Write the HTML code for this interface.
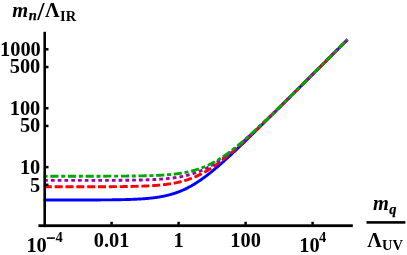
<!DOCTYPE html>
<html><head><meta charset="utf-8"><style>
html,body{margin:0;padding:0;background:#fff;}
body{width:407px;height:255px;overflow:hidden;position:relative;font-family:"Liberation Serif",serif;font-weight:bold;color:#000;}
svg{position:absolute;left:0;top:0;}
.t{position:absolute;white-space:nowrap;font-size:20.4px;line-height:20px;}
.yl{text-align:right;width:40.3px;left:0;}
.xl{text-align:center;width:80px;}
.i{font-style:italic;}
#lab{filter:grayscale(1);position:absolute;left:0;top:0;width:407px;height:255px;}
.s{font-size:14.5px;}
</style></head><body>
<svg width="407" height="255" viewBox="0 0 407 255">
<path d="M43.59 200.03 L44.10 200.03 L44.61 200.03 L45.12 200.03 L45.62 200.03 L46.13 200.03 L46.64 200.03 L47.15 200.03 L47.65 200.03 L48.16 200.03 L48.67 200.03 L49.17 200.03 L49.68 200.03 L50.19 200.03 L50.70 200.02 L51.20 200.02 L51.71 200.02 L52.22 200.02 L52.73 200.02 L53.23 200.02 L53.74 200.02 L54.25 200.02 L54.75 200.02 L55.26 200.02 L55.77 200.02 L56.28 200.02 L56.78 200.02 L57.29 200.02 L57.80 200.02 L58.31 200.02 L58.81 200.02 L59.32 200.02 L59.83 200.02 L60.33 200.02 L60.84 200.02 L61.35 200.02 L61.86 200.02 L62.36 200.02 L62.87 200.02 L63.38 200.02 L63.89 200.02 L64.39 200.02 L64.90 200.02 L65.41 200.02 L65.91 200.02 L66.42 200.02 L66.93 200.02 L67.44 200.02 L67.94 200.02 L68.45 200.01 L68.96 200.01 L69.46 200.01 L69.97 200.01 L70.48 200.01 L70.99 200.01 L71.49 200.01 L72.00 200.01 L72.51 200.01 L73.02 200.01 L73.52 200.01 L74.03 200.01 L74.54 200.01 L75.04 200.01 L75.55 200.01 L76.06 200.01 L76.57 200.00 L77.07 200.00 L77.58 200.00 L78.09 200.00 L78.60 200.00 L79.10 200.00 L79.61 200.00 L80.12 200.00 L80.62 200.00 L81.13 200.00 L81.64 200.00 L82.15 199.99 L82.65 199.99 L83.16 199.99 L83.67 199.99 L84.18 199.99 L84.68 199.99 L85.19 199.99 L85.70 199.99 L86.20 199.99 L86.71 199.98 L87.22 199.98 L87.73 199.98 L88.23 199.98 L88.74 199.98 L89.25 199.98 L89.76 199.97 L90.26 199.97 L90.77 199.97 L91.28 199.97 L91.78 199.97 L92.29 199.97 L92.80 199.96 L93.31 199.96 L93.81 199.96 L94.32 199.96 L94.83 199.96 L95.33 199.95 L95.84 199.95 L96.35 199.95 L96.86 199.95 L97.36 199.94 L97.87 199.94 L98.38 199.94 L98.89 199.94 L99.39 199.93 L99.90 199.93 L100.41 199.93 L100.91 199.92 L101.42 199.92 L101.93 199.92 L102.44 199.91 L102.94 199.91 L103.45 199.91 L103.96 199.90 L104.47 199.90 L104.97 199.89 L105.48 199.89 L105.99 199.89 L106.49 199.88 L107.00 199.88 L107.51 199.87 L108.02 199.87 L108.52 199.86 L109.03 199.86 L109.54 199.85 L110.05 199.85 L110.55 199.84 L111.06 199.84 L111.57 199.83 L112.07 199.82 L112.58 199.82 L113.09 199.81 L113.60 199.80 L114.10 199.80 L114.61 199.79 L115.12 199.78 L115.63 199.78 L116.13 199.77 L116.64 199.76 L117.15 199.75 L117.65 199.74 L118.16 199.74 L118.67 199.73 L119.18 199.72 L119.68 199.71 L120.19 199.70 L120.70 199.69 L121.20 199.68 L121.71 199.67 L122.22 199.66 L122.73 199.65 L123.23 199.63 L123.74 199.62 L124.25 199.61 L124.76 199.60 L125.26 199.58 L125.77 199.57 L126.28 199.56 L126.78 199.54 L127.29 199.53 L127.80 199.51 L128.31 199.50 L128.81 199.48 L129.32 199.47 L129.83 199.45 L130.34 199.43 L130.84 199.41 L131.35 199.40 L131.86 199.38 L132.36 199.36 L132.87 199.34 L133.38 199.32 L133.89 199.30 L134.39 199.27 L134.90 199.25 L135.41 199.23 L135.92 199.20 L136.42 199.18 L136.93 199.15 L137.44 199.13 L137.94 199.10 L138.45 199.07 L138.96 199.05 L139.47 199.02 L139.97 198.99 L140.48 198.96 L140.99 198.93 L141.49 198.89 L142.00 198.86 L142.51 198.83 L143.02 198.79 L143.52 198.75 L144.03 198.72 L144.54 198.68 L145.05 198.64 L145.55 198.60 L146.06 198.56 L146.57 198.51 L147.07 198.47 L147.58 198.43 L148.09 198.38 L148.60 198.33 L149.10 198.28 L149.61 198.23 L150.12 198.18 L150.63 198.13 L151.13 198.07 L151.64 198.02 L152.15 197.96 L152.65 197.90 L153.16 197.84 L153.67 197.78 L154.18 197.71 L154.68 197.65 L155.19 197.58 L155.70 197.51 L156.21 197.44 L156.71 197.37 L157.22 197.29 L157.73 197.22 L158.23 197.14 L158.74 197.06 L159.25 196.98 L159.76 196.89 L160.26 196.80 L160.77 196.71 L161.28 196.62 L161.79 196.53 L162.29 196.43 L162.80 196.34 L163.31 196.24 L163.81 196.13 L164.32 196.03 L164.83 195.92 L165.34 195.81 L165.84 195.70 L166.35 195.58 L166.86 195.46 L167.36 195.34 L167.87 195.22 L168.38 195.09 L168.89 194.96 L169.39 194.83 L169.90 194.69 L170.41 194.56 L170.92 194.41 L171.42 194.27 L171.93 194.12 L172.44 193.97 L172.94 193.82 L173.45 193.66 L173.96 193.50 L174.47 193.34 L174.97 193.17 L175.48 193.00 L175.99 192.83 L176.50 192.65 L177.00 192.47 L177.51 192.29 L178.02 192.10 L178.52 191.91 L179.03 191.71 L179.54 191.51 L180.05 191.31 L180.55 191.11 L181.06 190.90 L181.57 190.68 L182.08 190.47 L182.58 190.25 L183.09 190.02 L183.60 189.80 L184.10 189.56 L184.61 189.33 L185.12 189.09 L185.63 188.85 L186.13 188.60 L186.64 188.35 L187.15 188.10 L187.66 187.84 L188.16 187.58 L188.67 187.31 L189.18 187.04 L189.68 186.77 L190.19 186.49 L190.70 186.21 L191.21 185.93 L191.71 185.64 L192.22 185.35 L192.73 185.05 L193.23 184.75 L193.74 184.45 L194.25 184.14 L194.76 183.83 L195.26 183.52 L195.77 183.20 L196.28 182.88 L196.79 182.56 L197.29 182.23 L197.80 181.90 L198.31 181.57 L198.81 181.23 L199.32 180.89 L199.83 180.54 L200.34 180.20 L200.84 179.84 L201.35 179.49 L201.86 179.13 L202.37 178.77 L202.87 178.41 L203.38 178.04 L203.89 177.67 L204.39 177.30 L204.90 176.93 L205.41 176.55 L205.92 176.17 L206.42 175.78 L206.93 175.40 L207.44 175.01 L207.95 174.61 L208.45 174.22 L208.96 173.82 L209.47 173.42 L209.97 173.02 L210.48 172.62 L210.99 172.21 L211.50 171.80 L212.00 171.39 L212.51 170.97 L213.02 170.56 L213.53 170.14 L214.03 169.72 L214.54 169.29 L215.05 168.87 L215.55 168.44 L216.06 168.01 L216.57 167.58 L217.08 167.15 L217.58 166.72 L218.09 166.28 L218.60 165.84 L219.10 165.40 L219.61 164.96 L220.12 164.52 L220.63 164.07 L221.13 163.63 L221.64 163.18 L222.15 162.73 L222.66 162.28 L223.16 161.82 L223.67 161.37 L224.18 160.91 L224.68 160.46 L225.19 160.00 L225.70 159.54 L226.21 159.08 L226.71 158.62 L227.22 158.16 L227.73 157.69 L228.24 157.23 L228.74 156.76 L229.25 156.29 L229.76 155.82 L230.26 155.35 L230.77 154.88 L231.28 154.41 L231.79 153.94 L232.29 153.47 L232.80 152.99 L233.31 152.52 L233.82 152.04 L234.32 151.56 L234.83 151.09 L235.34 150.61 L235.84 150.13 L236.35 149.65 L236.86 149.17 L237.37 148.69 L237.87 148.20 L238.38 147.72 L238.89 147.24 L239.39 146.75 L239.90 146.27 L240.41 145.78 L240.92 145.30 L241.42 144.81 L241.93 144.32 L242.44 143.83 L242.95 143.35 L243.45 142.86 L243.96 142.37 L244.47 141.88 L244.97 141.39 L245.48 140.90 L245.99 140.41 L246.50 139.92 L247.00 139.42 L247.51 138.93 L248.02 138.44 L248.53 137.95 L249.03 137.45 L249.54 136.96 L250.05 136.46 L250.55 135.97 L251.06 135.47 L251.57 134.98 L252.08 134.48 L252.58 133.99 L253.09 133.49 L253.60 132.99 L254.11 132.50 L254.61 132.00 L255.12 131.50 L255.63 131.01 L256.13 130.51 L256.64 130.01 L257.15 129.51 L257.66 129.01 L258.16 128.51 L258.67 128.02 L259.18 127.52 L259.69 127.02 L260.19 126.52 L260.70 126.02 L261.21 125.52 L261.71 125.02 L262.22 124.52 L262.73 124.02 L263.24 123.52 L263.74 123.01 L264.25 122.51 L264.76 122.01 L265.26 121.51 L265.77 121.01 L266.28 120.51 L266.79 120.01 L267.29 119.50 L267.80 119.00 L268.31 118.50 L268.82 118.00 L269.32 117.50 L269.83 116.99 L270.34 116.49 L270.84 115.99 L271.35 115.49 L271.86 114.98 L272.37 114.48 L272.87 113.98 L273.38 113.47 L273.89 112.97 L274.40 112.47 L274.90 111.96 L275.41 111.46 L275.92 110.96 L276.42 110.45 L276.93 109.95 L277.44 109.44 L277.95 108.94 L278.45 108.44 L278.96 107.93 L279.47 107.43 L279.98 106.92 L280.48 106.42 L280.99 105.92 L281.50 105.41 L282.00 104.91 L282.51 104.40 L283.02 103.90 L283.53 103.39 L284.03 102.89 L284.54 102.38 L285.05 101.88 L285.56 101.37 L286.06 100.87 L286.57 100.36 L287.08 99.86 L287.58 99.35 L288.09 98.85 L288.60 98.34 L289.11 97.84 L289.61 97.33 L290.12 96.83 L290.63 96.32 L291.13 95.82 L291.64 95.31 L292.15 94.81 L292.66 94.30 L293.16 93.80 L293.67 93.29 L294.18 92.79 L294.69 92.28 L295.19 91.78 L295.70 91.27 L296.21 90.77 L296.71 90.26 L297.22 89.75 L297.73 89.25 L298.24 88.74 L298.74 88.24 L299.25 87.73 L299.76 87.23 L300.27 86.72 L300.77 86.21 L301.28 85.71 L301.79 85.20 L302.29 84.70 L302.80 84.19 L303.31 83.69 L303.82 83.18 L304.32 82.67 L304.83 82.17 L305.34 81.66 L305.85 81.16 L306.35 80.65 L306.86 80.15 L307.37 79.64 L307.87 79.13 L308.38 78.63 L308.89 78.12 L309.40 77.62 L309.90 77.11 L310.41 76.60 L310.92 76.10 L311.42 75.59 L311.93 75.09 L312.44 74.58 L312.95 74.07 L313.45 73.57 L313.96 73.06 L314.47 72.56 L314.98 72.05 L315.48 71.54 L315.99 71.04 L316.50 70.53 L317.00 70.03 L317.51 69.52 L318.02 69.01 L318.53 68.51 L319.03 68.00 L319.54 67.49 L320.05 66.99 L320.56 66.48 L321.06 65.98 L321.57 65.47 L322.08 64.96 L322.58 64.46 L323.09 63.95 L323.60 63.45 L324.11 62.94 L324.61 62.43 L325.12 61.93 L325.63 61.42 L326.14 60.92 L326.64 60.41 L327.15 59.90 L327.66 59.40 L328.16 58.89 L328.67 58.38 L329.18 57.88 L329.69 57.37 L330.19 56.87 L330.70 56.36 L331.21 55.85 L331.72 55.35 L332.22 54.84 L332.73 54.33 L333.24 53.83 L333.74 53.32 L334.25 52.82 L334.76 52.31 L335.27 51.80 L335.77 51.30 L336.28 50.79 L336.79 50.28 L337.29 49.78 L337.80 49.27 L338.31 48.77 L338.82 48.26 L339.32 47.75 L339.83 47.25 L340.34 46.74 L340.85 46.23 L341.35 45.73 L341.86 45.22 L342.37 44.72 L342.87 44.21 L343.38 43.70 L343.89 43.20 L344.40 42.69 L344.90 42.18 L345.41 41.68 L345.92 41.17 L346.43 40.67 L346.93 40.16 L347.44 39.65" fill="none" stroke="#0000ff" stroke-width="2.9"/>
<path d="M43.59 186.79 L44.10 186.79 L44.61 186.79 L45.12 186.79 L45.62 186.79 L46.13 186.79 L46.64 186.79 L47.15 186.79 L47.65 186.79 L48.16 186.79 L48.67 186.79 L49.17 186.79 L49.68 186.79 L50.19 186.79 L50.70 186.79 L51.20 186.79 L51.71 186.79 L52.22 186.79 L52.73 186.79 L53.23 186.79 L53.74 186.79 L54.25 186.79 L54.75 186.79 L55.26 186.79 L55.77 186.79 L56.28 186.79 L56.78 186.79 L57.29 186.79 L57.80 186.79 L58.31 186.79 L58.81 186.79 L59.32 186.79 L59.83 186.79 L60.33 186.79 L60.84 186.79 L61.35 186.79 L61.86 186.79 L62.36 186.79 L62.87 186.79 L63.38 186.79 L63.89 186.79 L64.39 186.79 L64.90 186.79 L65.41 186.79 L65.91 186.79 L66.42 186.79 L66.93 186.79 L67.44 186.79 L67.94 186.79 L68.45 186.79 L68.96 186.79 L69.46 186.79 L69.97 186.79 L70.48 186.79 L70.99 186.79 L71.49 186.79 L72.00 186.78 L72.51 186.78 L73.02 186.78 L73.52 186.78 L74.03 186.78 L74.54 186.78 L75.04 186.78 L75.55 186.78 L76.06 186.78 L76.57 186.78 L77.07 186.78 L77.58 186.78 L78.09 186.78 L78.60 186.78 L79.10 186.78 L79.61 186.78 L80.12 186.78 L80.62 186.78 L81.13 186.78 L81.64 186.78 L82.15 186.77 L82.65 186.77 L83.16 186.77 L83.67 186.77 L84.18 186.77 L84.68 186.77 L85.19 186.77 L85.70 186.77 L86.20 186.77 L86.71 186.77 L87.22 186.77 L87.73 186.77 L88.23 186.77 L88.74 186.76 L89.25 186.76 L89.76 186.76 L90.26 186.76 L90.77 186.76 L91.28 186.76 L91.78 186.76 L92.29 186.76 L92.80 186.76 L93.31 186.76 L93.81 186.75 L94.32 186.75 L94.83 186.75 L95.33 186.75 L95.84 186.75 L96.35 186.75 L96.86 186.75 L97.36 186.74 L97.87 186.74 L98.38 186.74 L98.89 186.74 L99.39 186.74 L99.90 186.74 L100.41 186.73 L100.91 186.73 L101.42 186.73 L101.93 186.73 L102.44 186.73 L102.94 186.72 L103.45 186.72 L103.96 186.72 L104.47 186.72 L104.97 186.72 L105.48 186.71 L105.99 186.71 L106.49 186.71 L107.00 186.71 L107.51 186.70 L108.02 186.70 L108.52 186.70 L109.03 186.70 L109.54 186.69 L110.05 186.69 L110.55 186.69 L111.06 186.68 L111.57 186.68 L112.07 186.68 L112.58 186.67 L113.09 186.67 L113.60 186.67 L114.10 186.66 L114.61 186.66 L115.12 186.65 L115.63 186.65 L116.13 186.64 L116.64 186.64 L117.15 186.64 L117.65 186.63 L118.16 186.63 L118.67 186.62 L119.18 186.62 L119.68 186.61 L120.19 186.61 L120.70 186.60 L121.20 186.59 L121.71 186.59 L122.22 186.58 L122.73 186.58 L123.23 186.57 L123.74 186.56 L124.25 186.56 L124.76 186.55 L125.26 186.54 L125.77 186.54 L126.28 186.53 L126.78 186.52 L127.29 186.51 L127.80 186.50 L128.31 186.49 L128.81 186.49 L129.32 186.48 L129.83 186.47 L130.34 186.46 L130.84 186.45 L131.35 186.44 L131.86 186.43 L132.36 186.42 L132.87 186.41 L133.38 186.40 L133.89 186.38 L134.39 186.37 L134.90 186.36 L135.41 186.35 L135.92 186.33 L136.42 186.32 L136.93 186.31 L137.44 186.29 L137.94 186.28 L138.45 186.26 L138.96 186.25 L139.47 186.23 L139.97 186.22 L140.48 186.20 L140.99 186.18 L141.49 186.17 L142.00 186.15 L142.51 186.13 L143.02 186.11 L143.52 186.09 L144.03 186.07 L144.54 186.05 L145.05 186.03 L145.55 186.01 L146.06 185.98 L146.57 185.96 L147.07 185.94 L147.58 185.91 L148.09 185.89 L148.60 185.86 L149.10 185.83 L149.61 185.81 L150.12 185.78 L150.63 185.75 L151.13 185.72 L151.64 185.69 L152.15 185.66 L152.65 185.63 L153.16 185.59 L153.67 185.56 L154.18 185.53 L154.68 185.49 L155.19 185.45 L155.70 185.42 L156.21 185.38 L156.71 185.34 L157.22 185.30 L157.73 185.26 L158.23 185.21 L158.74 185.17 L159.25 185.12 L159.76 185.08 L160.26 185.03 L160.77 184.98 L161.28 184.93 L161.79 184.88 L162.29 184.83 L162.80 184.77 L163.31 184.72 L163.81 184.66 L164.32 184.60 L164.83 184.54 L165.34 184.48 L165.84 184.41 L166.35 184.35 L166.86 184.28 L167.36 184.22 L167.87 184.15 L168.38 184.07 L168.89 184.00 L169.39 183.93 L169.90 183.85 L170.41 183.77 L170.92 183.69 L171.42 183.61 L171.93 183.52 L172.44 183.43 L172.94 183.35 L173.45 183.25 L173.96 183.16 L174.47 183.07 L174.97 182.97 L175.48 182.87 L175.99 182.77 L176.50 182.66 L177.00 182.55 L177.51 182.45 L178.02 182.33 L178.52 182.22 L179.03 182.10 L179.54 181.98 L180.05 181.86 L180.55 181.74 L181.06 181.61 L181.57 181.48 L182.08 181.34 L182.58 181.21 L183.09 181.07 L183.60 180.93 L184.10 180.78 L184.61 180.63 L185.12 180.48 L185.63 180.33 L186.13 180.17 L186.64 180.01 L187.15 179.85 L187.66 179.68 L188.16 179.51 L188.67 179.34 L189.18 179.16 L189.68 178.98 L190.19 178.80 L190.70 178.62 L191.21 178.43 L191.71 178.23 L192.22 178.04 L192.73 177.84 L193.23 177.63 L193.74 177.43 L194.25 177.22 L194.76 177.00 L195.26 176.78 L195.77 176.56 L196.28 176.34 L196.79 176.11 L197.29 175.88 L197.80 175.64 L198.31 175.40 L198.81 175.16 L199.32 174.92 L199.83 174.67 L200.34 174.41 L200.84 174.15 L201.35 173.89 L201.86 173.63 L202.37 173.36 L202.87 173.09 L203.38 172.81 L203.89 172.54 L204.39 172.25 L204.90 171.97 L205.41 171.68 L205.92 171.38 L206.42 171.09 L206.93 170.79 L207.44 170.48 L207.95 170.18 L208.45 169.87 L208.96 169.55 L209.47 169.23 L209.97 168.91 L210.48 168.59 L210.99 168.26 L211.50 167.93 L212.00 167.60 L212.51 167.26 L213.02 166.92 L213.53 166.57 L214.03 166.23 L214.54 165.88 L215.05 165.52 L215.55 165.17 L216.06 164.81 L216.57 164.45 L217.08 164.08 L217.58 163.71 L218.09 163.34 L218.60 162.97 L219.10 162.59 L219.61 162.21 L220.12 161.83 L220.63 161.45 L221.13 161.06 L221.64 160.67 L222.15 160.28 L222.66 159.88 L223.16 159.48 L223.67 159.08 L224.18 158.68 L224.68 158.28 L225.19 157.87 L225.70 157.46 L226.21 157.05 L226.71 156.64 L227.22 156.22 L227.73 155.80 L228.24 155.38 L228.74 154.96 L229.25 154.54 L229.76 154.11 L230.26 153.68 L230.77 153.25 L231.28 152.82 L231.79 152.39 L232.29 151.95 L232.80 151.52 L233.31 151.08 L233.82 150.64 L234.32 150.19 L234.83 149.75 L235.34 149.31 L235.84 148.86 L236.35 148.41 L236.86 147.96 L237.37 147.51 L237.87 147.06 L238.38 146.60 L238.89 146.15 L239.39 145.69 L239.90 145.23 L240.41 144.78 L240.92 144.32 L241.42 143.85 L241.93 143.39 L242.44 142.93 L242.95 142.46 L243.45 142.00 L243.96 141.53 L244.47 141.06 L244.97 140.59 L245.48 140.12 L245.99 139.65 L246.50 139.18 L247.00 138.71 L247.51 138.24 L248.02 137.76 L248.53 137.29 L249.03 136.81 L249.54 136.33 L250.05 135.85 L250.55 135.38 L251.06 134.90 L251.57 134.42 L252.08 133.94 L252.58 133.46 L253.09 132.97 L253.60 132.49 L254.11 132.01 L254.61 131.52 L255.12 131.04 L255.63 130.55 L256.13 130.07 L256.64 129.58 L257.15 129.09 L257.66 128.61 L258.16 128.12 L258.67 127.63 L259.18 127.14 L259.69 126.65 L260.19 126.16 L260.70 125.67 L261.21 125.18 L261.71 124.69 L262.22 124.20 L262.73 123.71 L263.24 123.22 L263.74 122.72 L264.25 122.23 L264.76 121.74 L265.26 121.24 L265.77 120.75 L266.28 120.25 L266.79 119.76 L267.29 119.26 L267.80 118.77 L268.31 118.27 L268.82 117.78 L269.32 117.28 L269.83 116.78 L270.34 116.29 L270.84 115.79 L271.35 115.29 L271.86 114.79 L272.37 114.30 L272.87 113.80 L273.38 113.30 L273.89 112.80 L274.40 112.30 L274.90 111.80 L275.41 111.30 L275.92 110.81 L276.42 110.31 L276.93 109.81 L277.44 109.31 L277.95 108.81 L278.45 108.31 L278.96 107.80 L279.47 107.30 L279.98 106.80 L280.48 106.30 L280.99 105.80 L281.50 105.30 L282.00 104.80 L282.51 104.30 L283.02 103.80 L283.53 103.29 L284.03 102.79 L284.54 102.29 L285.05 101.79 L285.56 101.29 L286.06 100.78 L286.57 100.28 L287.08 99.78 L287.58 99.28 L288.09 98.77 L288.60 98.27 L289.11 97.77 L289.61 97.26 L290.12 96.76 L290.63 96.26 L291.13 95.75 L291.64 95.25 L292.15 94.75 L292.66 94.24 L293.16 93.74 L293.67 93.24 L294.18 92.73 L294.69 92.23 L295.19 91.72 L295.70 91.22 L296.21 90.72 L296.71 90.21 L297.22 89.71 L297.73 89.20 L298.24 88.70 L298.74 88.19 L299.25 87.69 L299.76 87.19 L300.27 86.68 L300.77 86.18 L301.28 85.67 L301.79 85.17 L302.29 84.66 L302.80 84.16 L303.31 83.65 L303.82 83.15 L304.32 82.64 L304.83 82.14 L305.34 81.63 L305.85 81.13 L306.35 80.62 L306.86 80.12 L307.37 79.61 L307.87 79.11 L308.38 78.60 L308.89 78.10 L309.40 77.59 L309.90 77.09 L310.41 76.58 L310.92 76.08 L311.42 75.57 L311.93 75.07 L312.44 74.56 L312.95 74.05 L313.45 73.55 L313.96 73.04 L314.47 72.54 L314.98 72.03 L315.48 71.53 L315.99 71.02 L316.50 70.52 L317.00 70.01 L317.51 69.50 L318.02 69.00 L318.53 68.49 L319.03 67.99 L319.54 67.48 L320.05 66.98 L320.56 66.47 L321.06 65.96 L321.57 65.46 L322.08 64.95 L322.58 64.45 L323.09 63.94 L323.60 63.44 L324.11 62.93 L324.61 62.42 L325.12 61.92 L325.63 61.41 L326.14 60.91 L326.64 60.40 L327.15 59.89 L327.66 59.39 L328.16 58.88 L328.67 58.38 L329.18 57.87 L329.69 57.36 L330.19 56.86 L330.70 56.35 L331.21 55.85 L331.72 55.34 L332.22 54.83 L332.73 54.33 L333.24 53.82 L333.74 53.32 L334.25 52.81 L334.76 52.30 L335.27 51.80 L335.77 51.29 L336.28 50.79 L336.79 50.28 L337.29 49.77 L337.80 49.27 L338.31 48.76 L338.82 48.26 L339.32 47.75 L339.83 47.24 L340.34 46.74 L340.85 46.23 L341.35 45.72 L341.86 45.22 L342.37 44.71 L342.87 44.21 L343.38 43.70 L343.89 43.19 L344.40 42.69 L344.90 42.18 L345.41 41.68 L345.92 41.17 L346.43 40.66 L346.93 40.16 L347.44 39.65" fill="none" stroke="#ff0000" stroke-width="2.9" stroke-dasharray="8.04 2.8" stroke-dashoffset="10.63"/>
<path d="M43.59 180.42 L44.10 180.42 L44.61 180.42 L45.12 180.42 L45.62 180.42 L46.13 180.42 L46.64 180.42 L47.15 180.42 L47.65 180.42 L48.16 180.42 L48.67 180.42 L49.17 180.42 L49.68 180.42 L50.19 180.42 L50.70 180.42 L51.20 180.42 L51.71 180.42 L52.22 180.42 L52.73 180.42 L53.23 180.42 L53.74 180.42 L54.25 180.42 L54.75 180.42 L55.26 180.42 L55.77 180.42 L56.28 180.42 L56.78 180.42 L57.29 180.42 L57.80 180.42 L58.31 180.42 L58.81 180.42 L59.32 180.42 L59.83 180.42 L60.33 180.42 L60.84 180.42 L61.35 180.42 L61.86 180.42 L62.36 180.42 L62.87 180.42 L63.38 180.42 L63.89 180.42 L64.39 180.42 L64.90 180.42 L65.41 180.42 L65.91 180.42 L66.42 180.42 L66.93 180.42 L67.44 180.42 L67.94 180.42 L68.45 180.42 L68.96 180.42 L69.46 180.42 L69.97 180.42 L70.48 180.42 L70.99 180.42 L71.49 180.42 L72.00 180.42 L72.51 180.41 L73.02 180.41 L73.52 180.41 L74.03 180.41 L74.54 180.41 L75.04 180.41 L75.55 180.41 L76.06 180.41 L76.57 180.41 L77.07 180.41 L77.58 180.41 L78.09 180.41 L78.60 180.41 L79.10 180.41 L79.61 180.41 L80.12 180.41 L80.62 180.41 L81.13 180.41 L81.64 180.41 L82.15 180.41 L82.65 180.41 L83.16 180.41 L83.67 180.41 L84.18 180.41 L84.68 180.41 L85.19 180.41 L85.70 180.40 L86.20 180.40 L86.71 180.40 L87.22 180.40 L87.73 180.40 L88.23 180.40 L88.74 180.40 L89.25 180.40 L89.76 180.40 L90.26 180.40 L90.77 180.40 L91.28 180.40 L91.78 180.40 L92.29 180.40 L92.80 180.40 L93.31 180.39 L93.81 180.39 L94.32 180.39 L94.83 180.39 L95.33 180.39 L95.84 180.39 L96.35 180.39 L96.86 180.39 L97.36 180.39 L97.87 180.39 L98.38 180.38 L98.89 180.38 L99.39 180.38 L99.90 180.38 L100.41 180.38 L100.91 180.38 L101.42 180.38 L101.93 180.38 L102.44 180.37 L102.94 180.37 L103.45 180.37 L103.96 180.37 L104.47 180.37 L104.97 180.37 L105.48 180.37 L105.99 180.36 L106.49 180.36 L107.00 180.36 L107.51 180.36 L108.02 180.36 L108.52 180.35 L109.03 180.35 L109.54 180.35 L110.05 180.35 L110.55 180.35 L111.06 180.34 L111.57 180.34 L112.07 180.34 L112.58 180.34 L113.09 180.33 L113.60 180.33 L114.10 180.33 L114.61 180.33 L115.12 180.32 L115.63 180.32 L116.13 180.32 L116.64 180.31 L117.15 180.31 L117.65 180.31 L118.16 180.30 L118.67 180.30 L119.18 180.30 L119.68 180.29 L120.19 180.29 L120.70 180.29 L121.20 180.28 L121.71 180.28 L122.22 180.27 L122.73 180.27 L123.23 180.27 L123.74 180.26 L124.25 180.26 L124.76 180.25 L125.26 180.25 L125.77 180.24 L126.28 180.24 L126.78 180.23 L127.29 180.22 L127.80 180.22 L128.31 180.21 L128.81 180.21 L129.32 180.20 L129.83 180.19 L130.34 180.19 L130.84 180.18 L131.35 180.17 L131.86 180.17 L132.36 180.16 L132.87 180.15 L133.38 180.14 L133.89 180.13 L134.39 180.13 L134.90 180.12 L135.41 180.11 L135.92 180.10 L136.42 180.09 L136.93 180.08 L137.44 180.07 L137.94 180.06 L138.45 180.05 L138.96 180.04 L139.47 180.03 L139.97 180.02 L140.48 180.01 L140.99 179.99 L141.49 179.98 L142.00 179.97 L142.51 179.96 L143.02 179.94 L143.52 179.93 L144.03 179.91 L144.54 179.90 L145.05 179.88 L145.55 179.87 L146.06 179.85 L146.57 179.84 L147.07 179.82 L147.58 179.80 L148.09 179.78 L148.60 179.77 L149.10 179.75 L149.61 179.73 L150.12 179.71 L150.63 179.69 L151.13 179.67 L151.64 179.65 L152.15 179.62 L152.65 179.60 L153.16 179.58 L153.67 179.55 L154.18 179.53 L154.68 179.50 L155.19 179.48 L155.70 179.45 L156.21 179.42 L156.71 179.39 L157.22 179.37 L157.73 179.34 L158.23 179.30 L158.74 179.27 L159.25 179.24 L159.76 179.21 L160.26 179.17 L160.77 179.14 L161.28 179.10 L161.79 179.06 L162.29 179.03 L162.80 178.99 L163.31 178.95 L163.81 178.91 L164.32 178.86 L164.83 178.82 L165.34 178.78 L165.84 178.73 L166.35 178.68 L166.86 178.64 L167.36 178.59 L167.87 178.54 L168.38 178.48 L168.89 178.43 L169.39 178.37 L169.90 178.32 L170.41 178.26 L170.92 178.20 L171.42 178.14 L171.93 178.08 L172.44 178.02 L172.94 177.95 L173.45 177.88 L173.96 177.81 L174.47 177.74 L174.97 177.67 L175.48 177.60 L175.99 177.52 L176.50 177.44 L177.00 177.36 L177.51 177.28 L178.02 177.20 L178.52 177.11 L179.03 177.03 L179.54 176.94 L180.05 176.84 L180.55 176.75 L181.06 176.65 L181.57 176.55 L182.08 176.45 L182.58 176.35 L183.09 176.24 L183.60 176.14 L184.10 176.03 L184.61 175.91 L185.12 175.80 L185.63 175.68 L186.13 175.56 L186.64 175.44 L187.15 175.31 L187.66 175.18 L188.16 175.05 L188.67 174.91 L189.18 174.78 L189.68 174.64 L190.19 174.49 L190.70 174.35 L191.21 174.20 L191.71 174.05 L192.22 173.89 L192.73 173.73 L193.23 173.57 L193.74 173.41 L194.25 173.24 L194.76 173.07 L195.26 172.90 L195.77 172.72 L196.28 172.54 L196.79 172.35 L197.29 172.16 L197.80 171.97 L198.31 171.78 L198.81 171.58 L199.32 171.38 L199.83 171.18 L200.34 170.97 L200.84 170.76 L201.35 170.54 L201.86 170.32 L202.37 170.10 L202.87 169.87 L203.38 169.64 L203.89 169.41 L204.39 169.17 L204.90 168.93 L205.41 168.69 L205.92 168.44 L206.42 168.19 L206.93 167.93 L207.44 167.67 L207.95 167.41 L208.45 167.15 L208.96 166.88 L209.47 166.60 L209.97 166.33 L210.48 166.05 L210.99 165.76 L211.50 165.47 L212.00 165.18 L212.51 164.89 L213.02 164.59 L213.53 164.29 L214.03 163.98 L214.54 163.67 L215.05 163.36 L215.55 163.05 L216.06 162.73 L216.57 162.41 L217.08 162.08 L217.58 161.75 L218.09 161.42 L218.60 161.08 L219.10 160.74 L219.61 160.40 L220.12 160.06 L220.63 159.71 L221.13 159.36 L221.64 159.00 L222.15 158.65 L222.66 158.29 L223.16 157.92 L223.67 157.56 L224.18 157.19 L224.68 156.81 L225.19 156.44 L225.70 156.06 L226.21 155.68 L226.71 155.30 L227.22 154.91 L227.73 154.52 L228.24 154.13 L228.74 153.74 L229.25 153.34 L229.76 152.95 L230.26 152.54 L230.77 152.14 L231.28 151.74 L231.79 151.33 L232.29 150.92 L232.80 150.51 L233.31 150.09 L233.82 149.67 L234.32 149.26 L234.83 148.83 L235.34 148.41 L235.84 147.99 L236.35 147.56 L236.86 147.13 L237.37 146.70 L237.87 146.27 L238.38 145.83 L238.89 145.40 L239.39 144.96 L239.90 144.52 L240.41 144.08 L240.92 143.64 L241.42 143.19 L241.93 142.75 L242.44 142.30 L242.95 141.85 L243.45 141.40 L243.96 140.95 L244.47 140.50 L244.97 140.04 L245.48 139.59 L245.99 139.13 L246.50 138.67 L247.00 138.21 L247.51 137.75 L248.02 137.29 L248.53 136.83 L249.03 136.36 L249.54 135.90 L250.05 135.43 L250.55 134.96 L251.06 134.50 L251.57 134.03 L252.08 133.56 L252.58 133.09 L253.09 132.61 L253.60 132.14 L254.11 131.67 L254.61 131.19 L255.12 130.72 L255.63 130.24 L256.13 129.76 L256.64 129.28 L257.15 128.81 L257.66 128.33 L258.16 127.85 L258.67 127.36 L259.18 126.88 L259.69 126.40 L260.19 125.92 L260.70 125.43 L261.21 124.95 L261.71 124.47 L262.22 123.98 L262.73 123.49 L263.24 123.01 L263.74 122.52 L264.25 122.03 L264.76 121.54 L265.26 121.06 L265.77 120.57 L266.28 120.08 L266.79 119.59 L267.29 119.10 L267.80 118.61 L268.31 118.12 L268.82 117.62 L269.32 117.13 L269.83 116.64 L270.34 116.15 L270.84 115.65 L271.35 115.16 L271.86 114.67 L272.37 114.17 L272.87 113.68 L273.38 113.18 L273.89 112.69 L274.40 112.19 L274.90 111.69 L275.41 111.20 L275.92 110.70 L276.42 110.21 L276.93 109.71 L277.44 109.21 L277.95 108.71 L278.45 108.22 L278.96 107.72 L279.47 107.22 L279.98 106.72 L280.48 106.22 L280.99 105.72 L281.50 105.22 L282.00 104.73 L282.51 104.23 L283.02 103.73 L283.53 103.23 L284.03 102.73 L284.54 102.23 L285.05 101.73 L285.56 101.23 L286.06 100.72 L286.57 100.22 L287.08 99.72 L287.58 99.22 L288.09 98.72 L288.60 98.22 L289.11 97.72 L289.61 97.22 L290.12 96.71 L290.63 96.21 L291.13 95.71 L291.64 95.21 L292.15 94.70 L292.66 94.20 L293.16 93.70 L293.67 93.20 L294.18 92.69 L294.69 92.19 L295.19 91.69 L295.70 91.19 L296.21 90.68 L296.71 90.18 L297.22 89.68 L297.73 89.17 L298.24 88.67 L298.74 88.17 L299.25 87.66 L299.76 87.16 L300.27 86.65 L300.77 86.15 L301.28 85.65 L301.79 85.14 L302.29 84.64 L302.80 84.13 L303.31 83.63 L303.82 83.13 L304.32 82.62 L304.83 82.12 L305.34 81.61 L305.85 81.11 L306.35 80.60 L306.86 80.10 L307.37 79.59 L307.87 79.09 L308.38 78.59 L308.89 78.08 L309.40 77.58 L309.90 77.07 L310.41 76.57 L310.92 76.06 L311.42 75.56 L311.93 75.05 L312.44 74.55 L312.95 74.04 L313.45 73.54 L313.96 73.03 L314.47 72.53 L314.98 72.02 L315.48 71.52 L315.99 71.01 L316.50 70.50 L317.00 70.00 L317.51 69.49 L318.02 68.99 L318.53 68.48 L319.03 67.98 L319.54 67.47 L320.05 66.97 L320.56 66.46 L321.06 65.96 L321.57 65.45 L322.08 64.94 L322.58 64.44 L323.09 63.93 L323.60 63.43 L324.11 62.92 L324.61 62.42 L325.12 61.91 L325.63 61.41 L326.14 60.90 L326.64 60.39 L327.15 59.89 L327.66 59.38 L328.16 58.88 L328.67 58.37 L329.18 57.86 L329.69 57.36 L330.19 56.85 L330.70 56.35 L331.21 55.84 L331.72 55.34 L332.22 54.83 L332.73 54.32 L333.24 53.82 L333.74 53.31 L334.25 52.81 L334.76 52.30 L335.27 51.79 L335.77 51.29 L336.28 50.78 L336.79 50.28 L337.29 49.77 L337.80 49.26 L338.31 48.76 L338.82 48.25 L339.32 47.75 L339.83 47.24 L340.34 46.73 L340.85 46.23 L341.35 45.72 L341.86 45.22 L342.37 44.71 L342.87 44.20 L343.38 43.70 L343.89 43.19 L344.40 42.69 L344.90 42.18 L345.41 41.67 L345.92 41.17 L346.43 40.66 L346.93 40.15 L347.44 39.65" fill="none" stroke="#a000b2" stroke-width="2.9" stroke-dasharray="3.72 3.05" stroke-dashoffset="6.21"/>
<path d="M43.59 176.22 L44.10 176.22 L44.61 176.22 L45.12 176.22 L45.62 176.22 L46.13 176.22 L46.64 176.22 L47.15 176.22 L47.65 176.22 L48.16 176.22 L48.67 176.22 L49.17 176.22 L49.68 176.22 L50.19 176.22 L50.70 176.22 L51.20 176.22 L51.71 176.22 L52.22 176.22 L52.73 176.22 L53.23 176.22 L53.74 176.22 L54.25 176.22 L54.75 176.22 L55.26 176.22 L55.77 176.22 L56.28 176.22 L56.78 176.22 L57.29 176.22 L57.80 176.22 L58.31 176.22 L58.81 176.22 L59.32 176.22 L59.83 176.22 L60.33 176.22 L60.84 176.22 L61.35 176.22 L61.86 176.22 L62.36 176.22 L62.87 176.22 L63.38 176.22 L63.89 176.22 L64.39 176.22 L64.90 176.22 L65.41 176.22 L65.91 176.22 L66.42 176.22 L66.93 176.22 L67.44 176.22 L67.94 176.22 L68.45 176.22 L68.96 176.22 L69.46 176.22 L69.97 176.22 L70.48 176.22 L70.99 176.22 L71.49 176.22 L72.00 176.22 L72.51 176.22 L73.02 176.22 L73.52 176.22 L74.03 176.22 L74.54 176.22 L75.04 176.22 L75.55 176.22 L76.06 176.22 L76.57 176.21 L77.07 176.21 L77.58 176.21 L78.09 176.21 L78.60 176.21 L79.10 176.21 L79.61 176.21 L80.12 176.21 L80.62 176.21 L81.13 176.21 L81.64 176.21 L82.15 176.21 L82.65 176.21 L83.16 176.21 L83.67 176.21 L84.18 176.21 L84.68 176.21 L85.19 176.21 L85.70 176.21 L86.20 176.21 L86.71 176.21 L87.22 176.21 L87.73 176.21 L88.23 176.21 L88.74 176.21 L89.25 176.21 L89.76 176.20 L90.26 176.20 L90.77 176.20 L91.28 176.20 L91.78 176.20 L92.29 176.20 L92.80 176.20 L93.31 176.20 L93.81 176.20 L94.32 176.20 L94.83 176.20 L95.33 176.20 L95.84 176.20 L96.35 176.20 L96.86 176.20 L97.36 176.19 L97.87 176.19 L98.38 176.19 L98.89 176.19 L99.39 176.19 L99.90 176.19 L100.41 176.19 L100.91 176.19 L101.42 176.19 L101.93 176.19 L102.44 176.19 L102.94 176.18 L103.45 176.18 L103.96 176.18 L104.47 176.18 L104.97 176.18 L105.48 176.18 L105.99 176.18 L106.49 176.18 L107.00 176.17 L107.51 176.17 L108.02 176.17 L108.52 176.17 L109.03 176.17 L109.54 176.17 L110.05 176.16 L110.55 176.16 L111.06 176.16 L111.57 176.16 L112.07 176.16 L112.58 176.16 L113.09 176.15 L113.60 176.15 L114.10 176.15 L114.61 176.15 L115.12 176.14 L115.63 176.14 L116.13 176.14 L116.64 176.14 L117.15 176.13 L117.65 176.13 L118.16 176.13 L118.67 176.13 L119.18 176.12 L119.68 176.12 L120.19 176.12 L120.70 176.12 L121.20 176.11 L121.71 176.11 L122.22 176.11 L122.73 176.10 L123.23 176.10 L123.74 176.09 L124.25 176.09 L124.76 176.09 L125.26 176.08 L125.77 176.08 L126.28 176.08 L126.78 176.07 L127.29 176.07 L127.80 176.06 L128.31 176.06 L128.81 176.05 L129.32 176.05 L129.83 176.04 L130.34 176.04 L130.84 176.03 L131.35 176.03 L131.86 176.02 L132.36 176.01 L132.87 176.01 L133.38 176.00 L133.89 176.00 L134.39 175.99 L134.90 175.98 L135.41 175.98 L135.92 175.97 L136.42 175.96 L136.93 175.95 L137.44 175.95 L137.94 175.94 L138.45 175.93 L138.96 175.92 L139.47 175.91 L139.97 175.90 L140.48 175.89 L140.99 175.88 L141.49 175.87 L142.00 175.86 L142.51 175.85 L143.02 175.84 L143.52 175.83 L144.03 175.82 L144.54 175.81 L145.05 175.80 L145.55 175.78 L146.06 175.77 L146.57 175.76 L147.07 175.75 L147.58 175.73 L148.09 175.72 L148.60 175.70 L149.10 175.69 L149.61 175.67 L150.12 175.66 L150.63 175.64 L151.13 175.62 L151.64 175.61 L152.15 175.59 L152.65 175.57 L153.16 175.55 L153.67 175.53 L154.18 175.51 L154.68 175.49 L155.19 175.47 L155.70 175.45 L156.21 175.43 L156.71 175.41 L157.22 175.38 L157.73 175.36 L158.23 175.34 L158.74 175.31 L159.25 175.28 L159.76 175.26 L160.26 175.23 L160.77 175.20 L161.28 175.17 L161.79 175.14 L162.29 175.11 L162.80 175.08 L163.31 175.05 L163.81 175.02 L164.32 174.98 L164.83 174.95 L165.34 174.91 L165.84 174.88 L166.35 174.84 L166.86 174.80 L167.36 174.76 L167.87 174.72 L168.38 174.68 L168.89 174.63 L169.39 174.59 L169.90 174.54 L170.41 174.50 L170.92 174.45 L171.42 174.40 L171.93 174.35 L172.44 174.30 L172.94 174.25 L173.45 174.19 L173.96 174.14 L174.47 174.08 L174.97 174.02 L175.48 173.96 L175.99 173.90 L176.50 173.83 L177.00 173.77 L177.51 173.70 L178.02 173.63 L178.52 173.56 L179.03 173.49 L179.54 173.42 L180.05 173.34 L180.55 173.27 L181.06 173.19 L181.57 173.11 L182.08 173.02 L182.58 172.94 L183.09 172.85 L183.60 172.76 L184.10 172.67 L184.61 172.58 L185.12 172.48 L185.63 172.38 L186.13 172.28 L186.64 172.18 L187.15 172.08 L187.66 171.97 L188.16 171.86 L188.67 171.75 L189.18 171.63 L189.68 171.51 L190.19 171.39 L190.70 171.27 L191.21 171.15 L191.71 171.02 L192.22 170.89 L192.73 170.75 L193.23 170.62 L193.74 170.48 L194.25 170.34 L194.76 170.19 L195.26 170.04 L195.77 169.89 L196.28 169.74 L196.79 169.58 L197.29 169.42 L197.80 169.26 L198.31 169.09 L198.81 168.92 L199.32 168.75 L199.83 168.57 L200.34 168.39 L200.84 168.21 L201.35 168.02 L201.86 167.83 L202.37 167.64 L202.87 167.44 L203.38 167.24 L203.89 167.04 L204.39 166.83 L204.90 166.62 L205.41 166.40 L205.92 166.19 L206.42 165.96 L206.93 165.74 L207.44 165.51 L207.95 165.28 L208.45 165.04 L208.96 164.80 L209.47 164.56 L209.97 164.31 L210.48 164.06 L210.99 163.81 L211.50 163.55 L212.00 163.29 L212.51 163.02 L213.02 162.76 L213.53 162.48 L214.03 162.21 L214.54 161.93 L215.05 161.65 L215.55 161.36 L216.06 161.07 L216.57 160.78 L217.08 160.48 L217.58 160.18 L218.09 159.87 L218.60 159.57 L219.10 159.26 L219.61 158.94 L220.12 158.62 L220.63 158.30 L221.13 157.98 L221.64 157.65 L222.15 157.32 L222.66 156.98 L223.16 156.65 L223.67 156.30 L224.18 155.96 L224.68 155.61 L225.19 155.26 L225.70 154.91 L226.21 154.55 L226.71 154.19 L227.22 153.83 L227.73 153.46 L228.24 153.10 L228.74 152.72 L229.25 152.35 L229.76 151.97 L230.26 151.59 L230.77 151.21 L231.28 150.83 L231.79 150.44 L232.29 150.05 L232.80 149.66 L233.31 149.26 L233.82 148.86 L234.32 148.46 L234.83 148.06 L235.34 147.66 L235.84 147.25 L236.35 146.84 L236.86 146.43 L237.37 146.01 L237.87 145.60 L238.38 145.18 L238.89 144.76 L239.39 144.34 L239.90 143.91 L240.41 143.49 L240.92 143.06 L241.42 142.63 L241.93 142.20 L242.44 141.76 L242.95 141.33 L243.45 140.89 L243.96 140.45 L244.47 140.01 L244.97 139.57 L245.48 139.13 L245.99 138.68 L246.50 138.23 L247.00 137.79 L247.51 137.34 L248.02 136.88 L248.53 136.43 L249.03 135.98 L249.54 135.52 L250.05 135.07 L250.55 134.61 L251.06 134.15 L251.57 133.69 L252.08 133.23 L252.58 132.76 L253.09 132.30 L253.60 131.84 L254.11 131.37 L254.61 130.90 L255.12 130.44 L255.63 129.97 L256.13 129.50 L256.64 129.02 L257.15 128.55 L257.66 128.08 L258.16 127.61 L258.67 127.13 L259.18 126.66 L259.69 126.18 L260.19 125.70 L260.70 125.23 L261.21 124.75 L261.71 124.27 L262.22 123.79 L262.73 123.31 L263.24 122.83 L263.74 122.34 L264.25 121.86 L264.76 121.38 L265.26 120.89 L265.77 120.41 L266.28 119.92 L266.79 119.44 L267.29 118.95 L267.80 118.46 L268.31 117.98 L268.82 117.49 L269.32 117.00 L269.83 116.51 L270.34 116.02 L270.84 115.53 L271.35 115.04 L271.86 114.55 L272.37 114.06 L272.87 113.57 L273.38 113.08 L273.89 112.58 L274.40 112.09 L274.90 111.60 L275.41 111.10 L275.92 110.61 L276.42 110.12 L276.93 109.62 L277.44 109.13 L277.95 108.63 L278.45 108.14 L278.96 107.64 L279.47 107.14 L279.98 106.65 L280.48 106.15 L280.99 105.66 L281.50 105.16 L282.00 104.66 L282.51 104.16 L283.02 103.66 L283.53 103.17 L284.03 102.67 L284.54 102.17 L285.05 101.67 L285.56 101.17 L286.06 100.67 L286.57 100.17 L287.08 99.67 L287.58 99.17 L288.09 98.67 L288.60 98.17 L289.11 97.67 L289.61 97.17 L290.12 96.67 L290.63 96.17 L291.13 95.67 L291.64 95.17 L292.15 94.67 L292.66 94.17 L293.16 93.67 L293.67 93.16 L294.18 92.66 L294.69 92.16 L295.19 91.66 L295.70 91.16 L296.21 90.65 L296.71 90.15 L297.22 89.65 L297.73 89.15 L298.24 88.64 L298.74 88.14 L299.25 87.64 L299.76 87.13 L300.27 86.63 L300.77 86.13 L301.28 85.62 L301.79 85.12 L302.29 84.62 L302.80 84.11 L303.31 83.61 L303.82 83.11 L304.32 82.60 L304.83 82.10 L305.34 81.60 L305.85 81.09 L306.35 80.59 L306.86 80.08 L307.37 79.58 L307.87 79.08 L308.38 78.57 L308.89 78.07 L309.40 77.56 L309.90 77.06 L310.41 76.55 L310.92 76.05 L311.42 75.54 L311.93 75.04 L312.44 74.53 L312.95 74.03 L313.45 73.53 L313.96 73.02 L314.47 72.52 L314.98 72.01 L315.48 71.51 L315.99 71.00 L316.50 70.50 L317.00 69.99 L317.51 69.49 L318.02 68.98 L318.53 68.48 L319.03 67.97 L319.54 67.46 L320.05 66.96 L320.56 66.45 L321.06 65.95 L321.57 65.44 L322.08 64.94 L322.58 64.43 L323.09 63.93 L323.60 63.42 L324.11 62.92 L324.61 62.41 L325.12 61.91 L325.63 61.40 L326.14 60.89 L326.64 60.39 L327.15 59.88 L327.66 59.38 L328.16 58.87 L328.67 58.37 L329.18 57.86 L329.69 57.35 L330.19 56.85 L330.70 56.34 L331.21 55.84 L331.72 55.33 L332.22 54.83 L332.73 54.32 L333.24 53.81 L333.74 53.31 L334.25 52.80 L334.76 52.30 L335.27 51.79 L335.77 51.29 L336.28 50.78 L336.79 50.27 L337.29 49.77 L337.80 49.26 L338.31 48.76 L338.82 48.25 L339.32 47.74 L339.83 47.24 L340.34 46.73 L340.85 46.23 L341.35 45.72 L341.86 45.21 L342.37 44.71 L342.87 44.20 L343.38 43.70 L343.89 43.19 L344.40 42.68 L344.90 42.18 L345.41 41.67 L345.92 41.17 L346.43 40.66 L346.93 40.15 L347.44 39.65" fill="none" stroke="#00a800" stroke-width="2.9" stroke-dasharray="4 2.76 8.12 2.76" stroke-dashoffset="0"/>
<rect x="43.4" y="31.8" width="2.6" height="195.3" fill="#000"/>
<rect x="38.4" y="224.3" width="314.4" height="2.8" fill="#000"/>
<rect x="45" y="48.05" width="3.5" height="2.5" fill="#000"/>
<rect x="45" y="65.78" width="3.5" height="2.5" fill="#000"/>
<rect x="45" y="106.95" width="3.5" height="2.5" fill="#000"/>
<rect x="45" y="124.68" width="3.5" height="2.5" fill="#000"/>
<rect x="45" y="165.85" width="3.5" height="2.5" fill="#000"/>
<rect x="45" y="183.58" width="3.5" height="2.5" fill="#000"/>
<rect x="110.35" y="221.8" width="2.5" height="3" fill="#000"/>
<rect x="177.35" y="221.8" width="2.5" height="3" fill="#000"/>
<rect x="244.35" y="221.8" width="2.5" height="3" fill="#000"/>
<rect x="311.35" y="221.8" width="2.5" height="3" fill="#000"/>
<rect x="46.9" y="237.3" width="8" height="1.6" fill="#000"/>
<rect x="366.5" y="221.1" width="38.9" height="2.6" fill="#000"/>
</svg>
<div id="lab">
<div class="t yl" style="top:39.0px">1000</div>
<div class="t yl" style="top:56.2px">500</div>
<div class="t yl" style="top:97.9px">100</div>
<div class="t yl" style="top:115.1px">50</div>
<div class="t yl" style="top:156.8px">10</div>
<div class="t yl" style="top:175.0px">5</div>
<div class="t" style="left:26.4px;top:234.6px">10</div><div class="t s" style="left:55.5px;top:226.9px">4</div>
<div class="t xl" style="left:71.6px;top:229.7px">0.01</div>
<div class="t xl" style="left:138.6px;top:229.7px">1</div>
<div class="t xl" style="left:205.6px;top:229.7px">100</div>
<div class="t" style="left:299.2px;top:234.6px">10</div><div class="t s" style="left:318.9px;top:226.9px">4</div>
<div class="t i" style="left:12.3px;top:0.2px">m</div>
<div class="t i s" style="left:28.8px;top:5px;-webkit-text-stroke:0.25px #000">n</div>
<div class="t" style="left:37.2px;top:2px;font-size:26px">/</div>
<div class="t" style="left:45px;top:0.2px">Λ</div>
<div class="t s" style="left:60px;top:6px">IR</div>
<div class="t i" style="left:373px;top:193px">m</div>
<div class="t i s" style="left:389.3px;top:199px;-webkit-text-stroke:0.25px #000">q</div>
<div class="t" style="left:367.3px;top:230.4px">Λ</div>
<div class="t s" style="left:382px;top:235px">UV</div>
</div>
</body></html>
